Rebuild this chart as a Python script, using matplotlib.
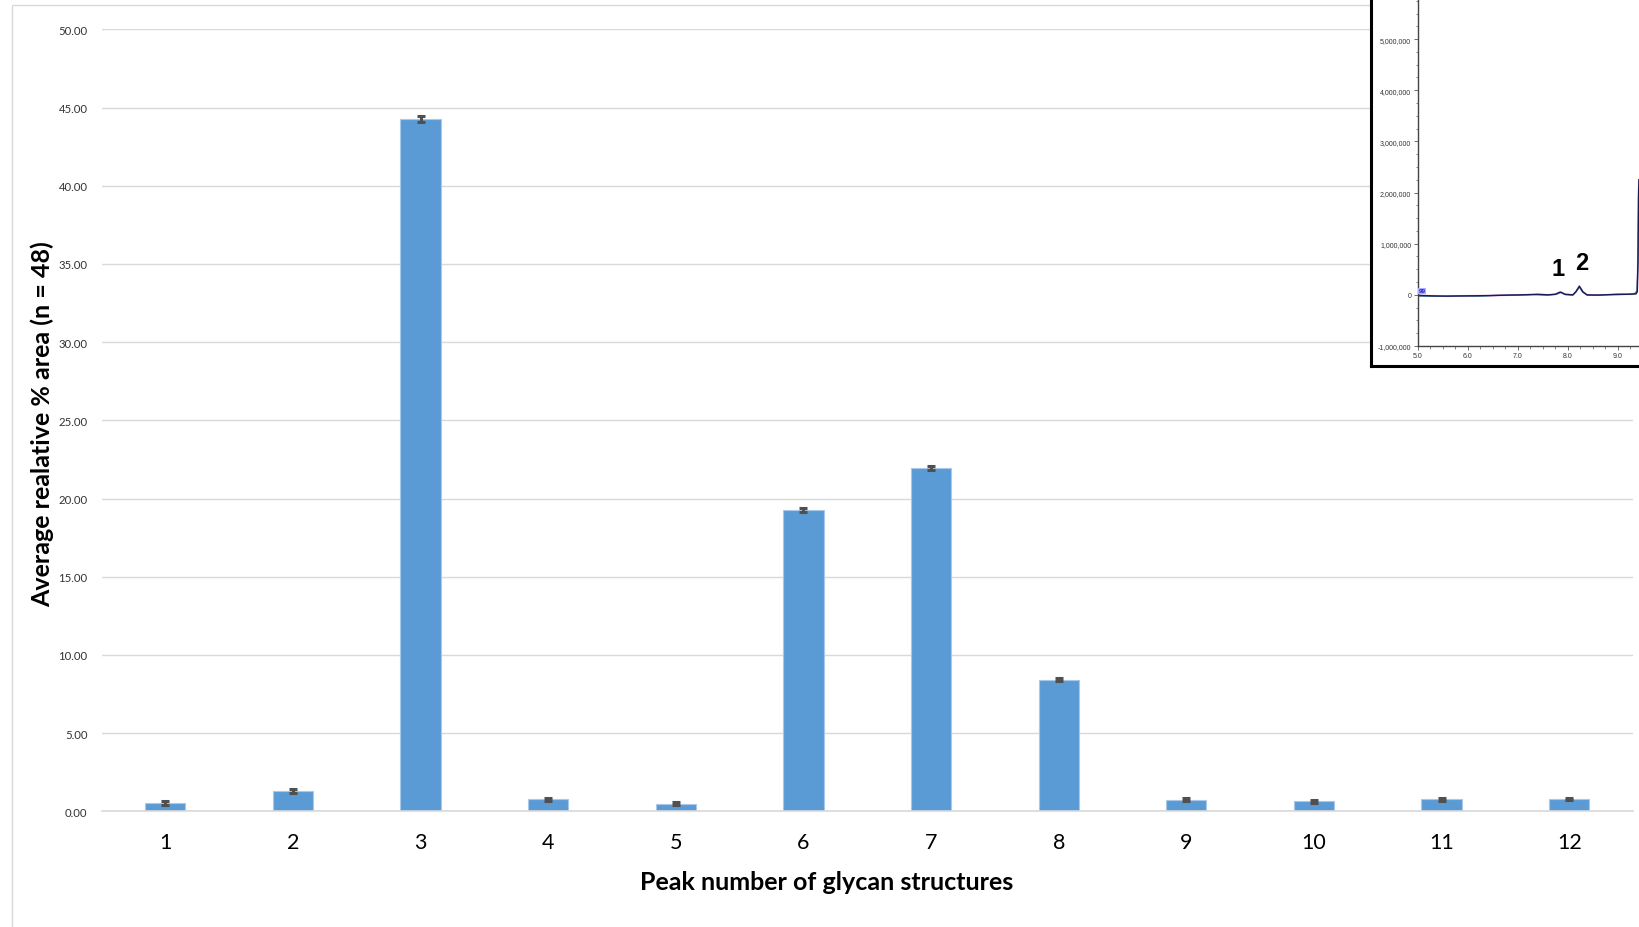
import matplotlib
matplotlib.use("Agg")
import matplotlib.pyplot as plt
from matplotlib.patches import Rectangle
from matplotlib.ticker import MultipleLocator, FuncFormatter

# Relative peak areas of the glycan structures
peaks = ["1", "2", "3", "4", "5", "6", "7", "8", "9", "10", "11", "12"]
mean_area = [0.51, 1.30, 44.27, 0.77, 0.49, 19.27, 21.95, 8.42, 0.74, 0.64, 0.77, 0.79]
err_area = [0.12, 0.10, 0.20, 0.08, 0.08, 0.12, 0.12, 0.10, 0.10, 0.10, 0.08, 0.08]
y_ticks = [0, 5, 10, 15, 20, 25, 30, 35, 40, 45, 50]

# Chromatogram excerpt (retention time in min, detector signal)
rt_a = [5.0, 5.3, 5.6, 6.0, 6.4, 6.8, 7.1, 7.4, 7.6, 7.75, 7.85, 7.95, 8.1, 8.16, 8.23,
        8.3, 8.38, 8.6, 8.9, 9.1, 9.3, 9.36, 9.385, 9.40, 9.41, 9.418]
sig_a = [-10000, -20000, -25000, -20000, -15000, -5000, 0, 10000, 0, 10000, 55000, 10000,
         0, 60000, 170000, 60000, 0, -5000, 5000, 10000, 15000, 20000, 60000, 700000,
         1900000, 2250000]
rt_b = [5.0, 5.4, 5.8, 6.2, 6.6, 7.0, 7.3, 7.6, 7.78, 7.86, 7.95, 8.1, 8.17, 8.23, 8.3,
        8.4, 8.7, 9.0, 9.2, 9.33, 9.38, 9.40, 9.41, 9.416]
sig_b = [-25000, -30000, -20000, -25000, -10000, -5000, 5000, -5000, 15000, 45000, 5000,
         -5000, 70000, 150000, 50000, -10000, 0, 15000, 10000, 25000, 80000, 600000,
         1500000, 2000000]
inset_x_ticks = [5.0, 6.0, 7.0, 8.0, 9.0]
inset_y_ticks = [-1000000, 0, 1000000, 2000000, 3000000, 4000000, 5000000]

W, H = 1639, 928
fig = plt.figure(figsize=(W / 100, H / 100), dpi=100)
fig.patch.set_facecolor("white")

# Light chart-area frame
fig.patches.append(Rectangle((11.7 / W, -0.1), 1.2, 1 - 6 / H + 0.1, transform=fig.transFigure,
                             fill=False, edgecolor="#d9d9d9", linewidth=1.0, zorder=0))

ax = fig.add_axes([101.5 / W, 1 - 812.3 / H, (1633 - 101.5) / W, (812.3 - 30.3) / H])
x = list(range(len(peaks)))
ax.bar(x, mean_area, width=0.315, color="#5b9bd5", edgecolor="#a9c8ea", linewidth=0.8, zorder=2)
ax.errorbar(x, mean_area, yerr=err_area, fmt="none", ecolor="#505050", elinewidth=2.2,
            capsize=2.6, capthick=2.2, zorder=3)
ax.set_xlim(-0.5, len(peaks) - 0.5)
ax.set_ylim(0, 50)
ax.set_yticks(y_ticks)
ax.yaxis.set_major_formatter(FuncFormatter(lambda v, p: f"{v:.2f}"))
ax.set_xticks(x)
ax.set_xticklabels(peaks)
ax.grid(axis="y", color="#d9d9d9", linewidth=1.0, zorder=0)
ax.set_axisbelow(True)
for s in ["top", "right", "left"]:
    ax.spines[s].set_visible(False)
ax.spines["bottom"].set_color("#d9d9d9")
ax.spines["bottom"].set_linewidth(1.2)
ax.tick_params(axis="y", length=0, pad=10, labelsize=8.2, labelcolor="#333333")
ax.tick_params(axis="x", length=0, pad=15, labelsize=15.5, labelcolor="#000000")
for lab in ax.get_xticklabels() + ax.get_yticklabels():
    lab.set_fontfamily("Lato")

fig.text(827 / W, 1 - 882 / H, "Peak number of glycan structures", ha="center", va="center",
         fontsize=18, fontweight="bold", family="Lato")
fig.text(42 / W, 1 - 424 / H, "Average realative % area (n = 48)", ha="center", va="center",
         rotation=90, fontsize=18, fontweight="bold", family="Lato")

# Inset chromatogram
frame = fig.add_axes([1371 / W, 1 - 367 / H, 0.3, 0.5])
frame.set_xticks([])
frame.set_yticks([])
for s in frame.spines.values():
    s.set_linewidth(2.2)
    s.set_color("black")
frame.set_facecolor("white")
frame.set_zorder(4)

ins = fig.add_axes([1417.5 / W, 1 - 347 / H, (W - 1417.5) / W, 347 / H])
ins.set_zorder(5)
ins.set_facecolor("white")
ins.plot(rt_b, sig_b, color="#22aa88", linewidth=0.9)
ins.plot(rt_a, sig_a, color="#cc33cc", linewidth=1.4, alpha=0.35)
ins.plot(rt_a, sig_a, color="#1a1a55", linewidth=1.0)
ins.set_xlim(5.0, 9.42)
ins.set_ylim(-1000000, 5000000 + 40 / 51 * 1000000)
ins.set_xticks(inset_x_ticks)
ins.set_yticks(inset_y_ticks)
ins.xaxis.set_minor_locator(MultipleLocator(0.25))
ins.yaxis.set_minor_locator(MultipleLocator(250000))
ins.xaxis.set_major_formatter(FuncFormatter(lambda v, p: f"{v:.1f}"))
ins.yaxis.set_major_formatter(FuncFormatter(lambda v, p: f"{int(v):,}"))
ins.tick_params(which="major", length=3, width=0.6, color="#555555", labelsize=5,
                labelcolor="#333333", pad=1.5)
ins.tick_params(which="minor", length=1.8, width=0.5, color="#555555")
for lab in ins.get_xticklabels() + ins.get_yticklabels():
    lab.set_fontfamily("Liberation Sans")
for s in ["top", "right"]:
    ins.spines[s].set_visible(False)
ins.spines["left"].set_color("#444444")
ins.spines["bottom"].set_color("#444444")
ins.spines["left"].set_linewidth(1.0)
ins.spines["bottom"].set_linewidth(1.0)
ins.text(5.02, 80000, "99", color="#2222cc", fontsize=4.5, fontweight="bold",
         family="Liberation Sans", va="center",
         bbox=dict(boxstyle="square,pad=0.05", fc="#aab0ff", ec="none"))
ins.text(7.80, 520000, "1", fontsize=17, fontweight="bold", family="Liberation Sans",
         ha="center", va="center")
ins.text(8.28, 640000, "2", fontsize=17, fontweight="bold", family="Liberation Sans",
         ha="center", va="center")

fig.savefig("out.png", dpi=100, facecolor="white")
